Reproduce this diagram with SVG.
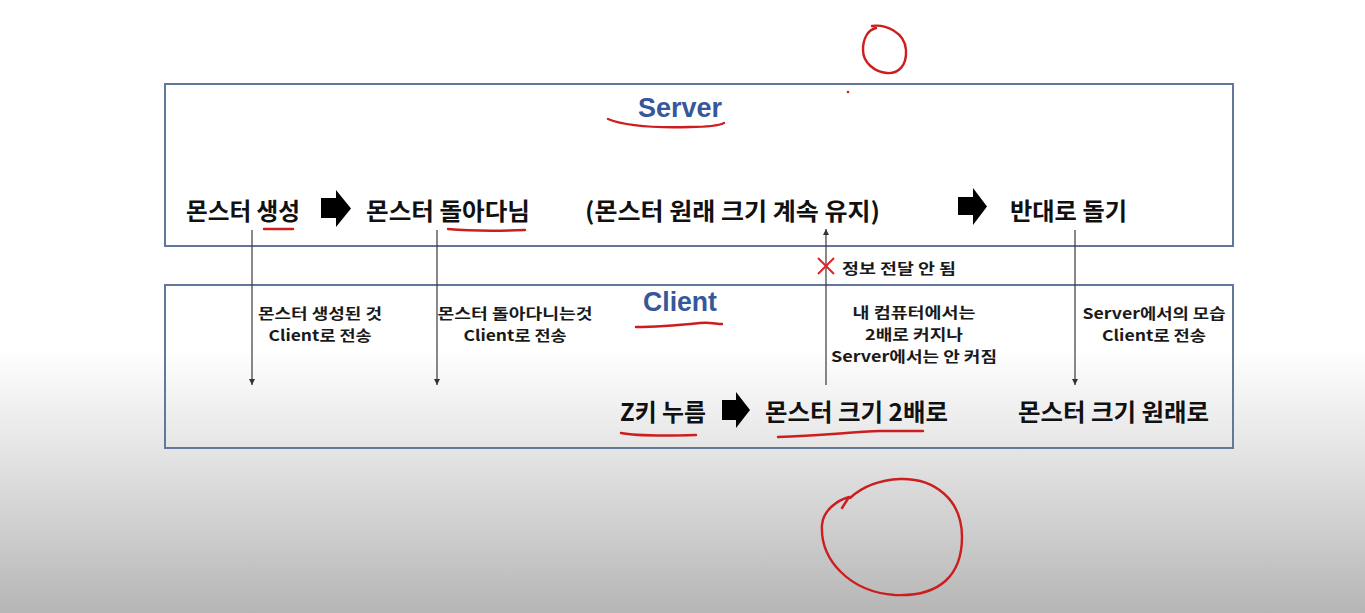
<svg xmlns="http://www.w3.org/2000/svg" width="1365" height="613" viewBox="0 0 1365 613">
<defs>
<linearGradient id="bg" x1="0" y1="0" x2="0" y2="613" gradientUnits="userSpaceOnUse">
<stop offset="0" stop-color="#ffffff"/>
<stop offset="0.57" stop-color="#ffffff"/>
<stop offset="0.75" stop-color="#e2e2e2"/>
<stop offset="1" stop-color="#b6b6b6"/>
</linearGradient>
<marker id="ah" viewBox="0 0 10 10" refX="10" refY="5" markerWidth="6" markerHeight="9" markerUnits="userSpaceOnUse" orient="auto">
<path d="M0,0 L10,5 L0,10 Z" fill="#333"/>
</marker>
<style>
.box{fill:none;stroke:#62779c;stroke-width:2}
.big{font-family:"Noto Sans CJK KR","Noto Sans",sans-serif;font-weight:bold;font-size:24px;fill:#111;dominant-baseline:central}
.sm{font-family:"Noto Sans CJK KR","Noto Sans",sans-serif;font-weight:bold;font-size:15px;fill:#1a1a1a;dominant-baseline:central;text-anchor:middle}
.ttl{font-family:"Liberation Sans","Noto Sans CJK KR",sans-serif;font-weight:bold;font-size:27px;fill:#34589a;dominant-baseline:central;text-anchor:middle}
.conn{stroke:#3a3a3a;stroke-width:1.2;fill:none}
.red{stroke:#cc1e1e;stroke-width:2.4;fill:none;stroke-linecap:round;stroke-linejoin:round}
.blk{fill:#000}
</style>
</defs>
<rect x="0" y="0" width="1365" height="613" fill="url(#bg)"/>

<g id="server">
<rect class="box" x="165" y="84" width="1068" height="162"/>
<text class="ttl" x="680" y="108" textLength="84" lengthAdjust="spacingAndGlyphs">Server</text>
</g>
<g id="client">
<rect class="box" x="165" y="285" width="1068" height="163"/>
<text class="ttl" x="680" y="302" textLength="74" lengthAdjust="spacingAndGlyphs">Client</text>
</g>

<g id="n-spawn"><text class="big" x="186" y="209" textLength="114" lengthAdjust="spacingAndGlyphs">몬스터 생성</text></g>
<g id="n-wander"><text class="big" x="366" y="209" textLength="164" lengthAdjust="spacingAndGlyphs">몬스터 돌아다님</text></g>
<g id="n-keep"><text class="big" x="585" y="209" textLength="295" lengthAdjust="spacingAndGlyphs">(몬스터 원래 크기 계속 유지)</text></g>
<g id="n-reverse"><text class="big" x="1010" y="209" textLength="117" lengthAdjust="spacingAndGlyphs">반대로 돌기</text></g>
<g id="n-zkey"><text class="big" x="620" y="410" textLength="86" lengthAdjust="spacingAndGlyphs">Z키 누름</text></g>
<g id="n-double"><text class="big" x="765" y="410" textLength="183" lengthAdjust="spacingAndGlyphs">몬스터 크기 2배로</text></g>
<g id="n-orig"><text class="big" x="1018" y="410" textLength="191" lengthAdjust="spacingAndGlyphs">몬스터 크기 원래로</text></g>

<g id="connectors">
<path class="blk" d="M321,198 H336 V190 L351,208.5 L336,227 V218 H321 Z"/>
<path class="blk" d="M958,197 H973 V188 L987,206.5 L973,225 V215 H958 Z"/>
<path class="blk" d="M722,400 H736 V392 L750,410 L736,428 V420 H722 Z"/>
<line class="conn" x1="252" y1="230" x2="252" y2="385" marker-end="url(#ah)"/>
<line class="conn" x1="437" y1="230" x2="437" y2="385" marker-end="url(#ah)"/>
<line class="conn" x1="1075" y1="230" x2="1075" y2="385" marker-end="url(#ah)"/>
<line class="conn" x1="826" y1="385" x2="826" y2="229" marker-end="url(#ah)"/>
<text class="sm" x="320" y="312" textLength="124" lengthAdjust="spacingAndGlyphs">몬스터 생성된 것</text>
<text class="sm" x="320" y="334" textLength="103" lengthAdjust="spacingAndGlyphs">Client로 전송</text>
<text class="sm" x="515" y="312" textLength="155" lengthAdjust="spacingAndGlyphs">몬스터 돌아다니는것</text>
<text class="sm" x="515" y="334" textLength="103" lengthAdjust="spacingAndGlyphs">Client로 전송</text>
<text class="sm" x="914" y="311" textLength="123" lengthAdjust="spacingAndGlyphs">내 컴퓨터에서는</text>
<text class="sm" x="914" y="333" textLength="98" lengthAdjust="spacingAndGlyphs">2배로 커지나</text>
<text class="sm" x="914" y="355" textLength="166" lengthAdjust="spacingAndGlyphs">Server에서는 안 커짐</text>
<text class="sm" x="1154" y="312" textLength="143" lengthAdjust="spacingAndGlyphs">Server에서의 모습</text>
<text class="sm" x="1154" y="334" textLength="104" lengthAdjust="spacingAndGlyphs">Client로 전송</text>
<path d="M818,258 L834,274 M834,258 L818,274" stroke="#e02424" stroke-width="2" fill="none"/>
<text class="sm" x="842" y="267" style="text-anchor:start" textLength="114" lengthAdjust="spacingAndGlyphs">정보 전달 안 됨</text>
</g>

<g id="annotations">
<path class="red" d="M608,119 C625,126 655,128 690,127 C705,127 718,126 724,123"/>
<path class="red" d="M264,229 L293,229"/>
<path class="red" d="M448,229 C470,231 500,231 525,230"/>
<path class="red" d="M636,327 C660,327 680,325 700,323 C710,322 716,324 722,324"/>
<path class="red" d="M621,433 C635,436 660,436 696,435"/>
<path class="red" d="M778,437 C820,436 850,432 880,431 L923,431"/>
<path class="red" d="M872,26 C885,24 905,32 906,50 C907,66 898,74 887,73 C875,72 863,63 863,50 C863,38 868,30 876,28"/>
<circle cx="848" cy="92" r="1.3" fill="#cc1e1e"/>
<path class="red" d="M842,508 L849,497 C838,500 823,510 822,525 C820,560 850,592 895,595 C940,597 962,575 962,537 C962,500 935,478 900,479 C878,480 862,487 850,498"/>
</g>
</svg>
